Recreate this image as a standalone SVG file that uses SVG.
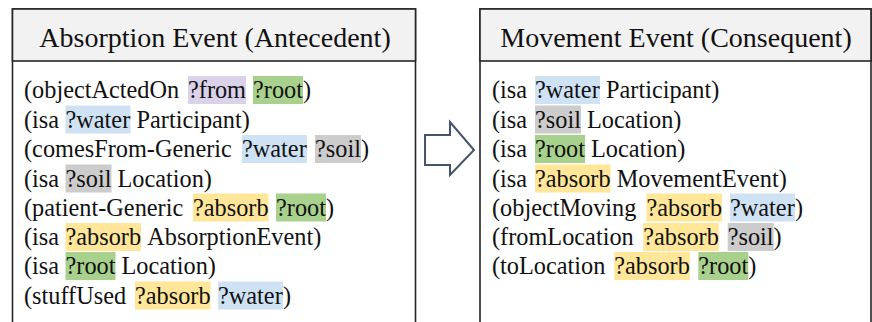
<svg xmlns="http://www.w3.org/2000/svg" width="872" height="322" viewBox="0 0 872 322">
<style>
.box{fill:#ffffff;stroke:#262626;stroke-width:1.6}
.hdr{fill:#f2f2f2;stroke:#262626;stroke-width:1.6}
.title{font-family:"Liberation Serif","Times New Roman",serif;font-size:28px;fill:#111;text-anchor:middle}
.t{font-family:"Liberation Serif","Times New Roman",serif;font-size:24.3px;fill:#111}
.hp{fill:#d9d2e9}.hg{fill:#a9d18e}.hb{fill:#cfe2f3}.hs{fill:#cccccc}.hy{fill:#ffe699}
.arrow{fill:#ffffff;stroke:#44546a;stroke-width:2;stroke-linejoin:miter}
</style>
<rect width="872" height="322" fill="#ffffff"/>
<g id="antecedent">
<rect class="box" x="12.5" y="9" width="403" height="330"/>
<rect class="hdr" x="12.5" y="9" width="403" height="52"/>
<text class="title" x="215" y="47">Absorption Event (Antecedent)</text>
<rect class="hp" x="188" y="76" width="58" height="28"/>
<rect class="hg" x="253" y="76" width="50" height="28"/>
<rect class="hb" x="65.5" y="105.5" width="65" height="28"/>
<rect class="hb" x="242" y="135" width="65" height="28"/>
<rect class="hs" x="315" y="135" width="46" height="28"/>
<rect class="hs" x="65.5" y="164.5" width="46" height="28"/>
<rect class="hy" x="193" y="193.5" width="75.5" height="28"/>
<rect class="hg" x="276" y="193.5" width="50" height="28"/>
<rect class="hy" x="65.5" y="223" width="75.5" height="28"/>
<rect class="hg" x="65.5" y="252" width="50" height="28"/>
<rect class="hy" x="135" y="281.5" width="75.5" height="28"/>
<rect class="hb" x="218" y="281.5" width="65" height="28"/>
<text class="t" y="98"><tspan x="24">(objectActedOn</tspan><tspan x="188">?from</tspan><tspan x="253">?root</tspan><tspan x="303">)</tspan></text>
<text class="t" y="127.5"><tspan x="24">(isa</tspan><tspan x="65.5">?water</tspan><tspan x="136.5">Participant)</tspan></text>
<text class="t" y="157"><tspan x="24">(comesFrom-Generic</tspan><tspan x="242">?water</tspan><tspan x="315">?soil</tspan><tspan x="361">)</tspan></text>
<text class="t" y="186.5"><tspan x="24">(isa</tspan><tspan x="65.5">?soil</tspan><tspan x="117.5">Location)</tspan></text>
<text class="t" y="215.5"><tspan x="24">(patient-Generic</tspan><tspan x="193">?absorb</tspan><tspan x="276">?root</tspan><tspan x="326">)</tspan></text>
<text class="t" y="245"><tspan x="24">(isa</tspan><tspan x="65.5">?absorb</tspan><tspan x="147.2">AbsorptionEvent)</tspan></text>
<text class="t" y="274"><tspan x="24">(isa</tspan><tspan x="65.5">?root</tspan><tspan x="121.5">Location)</tspan></text>
<text class="t" y="303.5"><tspan x="24">(stuffUsed</tspan><tspan x="135">?absorb</tspan><tspan x="218">?water</tspan><tspan x="283">)</tspan></text>
</g>
<g id="consequent">
<rect class="box" x="480" y="9" width="391" height="330"/>
<rect class="hdr" x="480" y="9" width="391" height="52"/>
<text class="title" x="676" y="47">Movement Event (Consequent)</text>
<rect class="hb" x="535" y="76" width="65" height="28"/>
<rect class="hs" x="535" y="105.5" width="46" height="28"/>
<rect class="hg" x="535" y="135" width="50" height="28"/>
<rect class="hy" x="535" y="164.5" width="75.5" height="28"/>
<rect class="hy" x="646.5" y="193.5" width="75.5" height="28"/>
<rect class="hb" x="730" y="193.5" width="65" height="28"/>
<rect class="hy" x="643.3" y="223" width="75.5" height="28"/>
<rect class="hs" x="727.7" y="223" width="46" height="28"/>
<rect class="hy" x="614.3" y="252" width="75.5" height="28"/>
<rect class="hg" x="698.3" y="252" width="50" height="28"/>
<text class="t" y="98"><tspan x="492">(isa</tspan><tspan x="535">?water</tspan><tspan x="606">Participant)</tspan></text>
<text class="t" y="127.5"><tspan x="492">(isa</tspan><tspan x="535">?soil</tspan><tspan x="587">Location)</tspan></text>
<text class="t" y="157"><tspan x="492">(isa</tspan><tspan x="535">?root</tspan><tspan x="591">Location)</tspan></text>
<text class="t" y="186.5"><tspan x="492">(isa</tspan><tspan x="535">?absorb</tspan><tspan x="616.7">MovementEvent)</tspan></text>
<text class="t" y="215.5"><tspan x="492">(objectMoving</tspan><tspan x="646.5">?absorb</tspan><tspan x="730">?water</tspan><tspan x="795">)</tspan></text>
<text class="t" y="245"><tspan x="492">(fromLocation</tspan><tspan x="643.3">?absorb</tspan><tspan x="727.7">?soil</tspan><tspan x="773.6">)</tspan></text>
<text class="t" y="274"><tspan x="492">(toLocation</tspan><tspan x="614.3">?absorb</tspan><tspan x="698.3">?root</tspan><tspan x="748.2">)</tspan></text>
</g>
<g id="connectors">
<polygon class="arrow" points="425,135 450,135 450,122 474,150 450,175 450,165 425,165"/>
</g>
</svg>
